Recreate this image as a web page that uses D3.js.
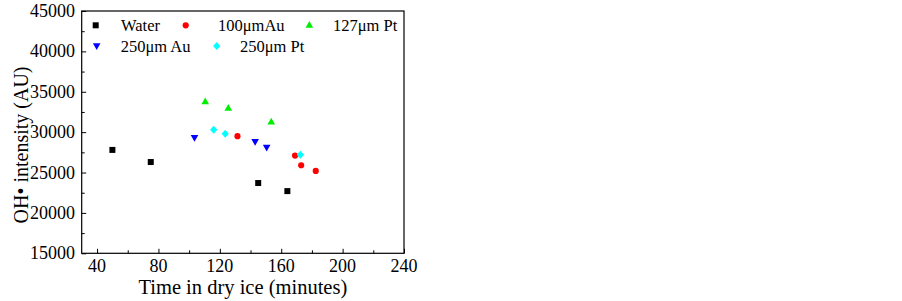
<!DOCTYPE html>
<html>
<head>
<meta charset="utf-8">
<script src="https://cdn.jsdelivr.net/npm/d3@7"></script>
<style>
  body { margin: 0; background: #fff; }
  svg { display: block; font-family: "Liberation Serif", "Times New Roman", serif; }
</style>
</head>
<body>
<div id="chart"></div>
<script>
// values
const waterX = [50, 75, 145, 164];
const waterY = [27800, 26300, 23700, 22700];
const au100X = [131.5, 169, 173, 182.5];
const au100Y = [29500, 27100, 25900, 25200];
const pt127X = [110.5, 125.5, 153.5];
const pt127Y = [33800, 33000, 31300];
const au250X = [103.5, 143, 150.5];
const au250Y = [29300, 28800, 28100];
const pt250X = [116, 123.5, 172.5];
const pt250Y = [30300, 29800, 27200];

const xTicks = [40, 80, 120, 160, 200, 240];
const yTicks = [15000, 20000, 25000, 30000, 35000, 40000, 45000];

const series = [
  { name: 'Water', xs: waterX, ys: waterY, color: '#000000', symbol: 'square' },
  { name: '100\u03bcmAu', xs: au100X, ys: au100Y, color: '#ff0000', symbol: 'circle' },
  { name: '127\u03bcm Pt', xs: pt127X, ys: pt127Y, color: '#00ee00', symbol: 'triUp' },
  { name: '250\u03bcm Au', xs: au250X, ys: au250Y, color: '#0000ff', symbol: 'triDown' },
  { name: '250\u03bcm Pt', xs: pt250X, ys: pt250Y, color: '#00ffff', symbol: 'diamond' }
];

const width = 902, height = 301;
const plot = { left: 81.7, right: 404, top: 11, bottom: 253.3 };

const x = d3.scaleLinear().domain([30, 240]).range([plot.left, plot.right]);
const y = d3.scaleLinear().domain([15000, 45000]).range([plot.bottom, plot.top]);

const svg = d3.select('#chart').append('svg')
  .attr('width', width)
  .attr('height', height);

// marker shapes
function markerPath(kind) {
  switch (kind) {
    case 'square': return 'M-3,-3H3V3H-3Z';
    case 'circle': return d3.symbol(d3.symbolCircle, 30)();
    case 'triUp': return 'M0,-4L3.8,2.8H-3.8Z';
    case 'triDown': return 'M0,4L3.8,-2.8H-3.8Z';
    case 'diamond': return 'M0,-4L3.6,0L0,4L-3.6,0Z';
  }
}

// frame
svg.append('rect')
  .attr('x', plot.left)
  .attr('y', plot.top)
  .attr('width', plot.right - plot.left)
  .attr('height', plot.bottom - plot.top)
  .attr('fill', 'none')
  .attr('stroke', '#000')
  .attr('stroke-width', 1.2);

// x ticks (inward), major every 40, minor every 20
const xAxis = svg.append('g').attr('transform', `translate(0,${plot.bottom})`);
xAxis.call(d3.axisTop(x).tickValues(d3.range(40, 241, 20)).tickSize(4).tickFormat(''))
  .call(g => g.select('.domain').remove())
  .call(g => g.selectAll('.tick line')
    .attr('y2', d => d % 40 === 0 ? -4.5 : -3)
    .attr('stroke-width', 1));

svg.append('g').selectAll('text')
  .data(xTicks)
  .join('text')
  .attr('x', d => x(d))
  .attr('y', 272)
  .attr('text-anchor', 'middle')
  .attr('font-size', 18)
  .text(d => d);

// y ticks (inward), major every 5000, minor every 2500
const yAxis = svg.append('g').attr('transform', `translate(${plot.left},0)`);
yAxis.call(d3.axisRight(y).tickValues(d3.range(15000, 45001, 2500)).tickSize(4).tickFormat(''))
  .call(g => g.select('.domain').remove())
  .call(g => g.selectAll('.tick line')
    .attr('x2', d => d % 5000 === 0 ? 4.5 : 3)
    .attr('stroke-width', 1));

svg.append('g').selectAll('text')
  .data(yTicks)
  .join('text')
  .attr('x', 75)
  .attr('y', d => y(d) + 6)
  .attr('text-anchor', 'end')
  .attr('font-size', 18)
  .text(d => d);

// axis titles
svg.append('text')
  .attr('x', (plot.left + plot.right) / 2)
  .attr('y', 294)
  .attr('text-anchor', 'middle')
  .attr('font-size', 20.5)
  .text('Time in dry ice (minutes)');

svg.append('text')
  .attr('transform', 'translate(28,145) rotate(-90)')
  .attr('text-anchor', 'middle')
  .attr('font-size', 20)
  .text('OH\u2022 intensity (AU)');

// points
series.forEach(s => {
  svg.append('g').selectAll('path')
    .data(s.xs.map((v, i) => [v, s.ys[i]]))
    .join('path')
    .attr('transform', d => `translate(${x(d[0])},${y(d[1])})`)
    .attr('d', markerPath(s.symbol))
    .attr('fill', s.color);
});

// legend
const legendPos = [
  { mx: 95.7, my: 25.3, tx: 121 },
  { mx: 185.7, my: 25.3, tx: 218 },
  { mx: 309.3, my: 25, tx: 333 },
  { mx: 96.7, my: 46, tx: 120.7 },
  { mx: 216.7, my: 46, tx: 240 }
];

const legend = svg.append('g');
series.forEach((s, i) => {
  const p = legendPos[i];
  legend.append('path')
    .attr('transform', `translate(${p.mx},${p.my})`)
    .attr('d', markerPath(s.symbol))
    .attr('fill', s.color);
  legend.append('text')
    .attr('x', p.tx)
    .attr('y', p.my + 6)
    .attr('font-size', 16.5)
    .text(s.name);
});
</script>
</body>
</html>
